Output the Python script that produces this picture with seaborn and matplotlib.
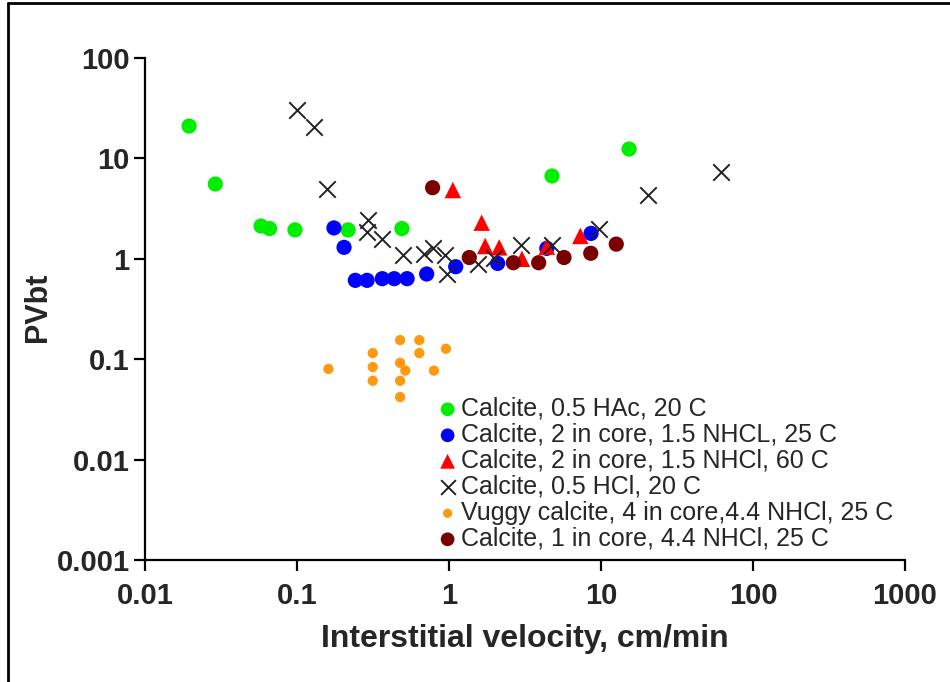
import matplotlib
matplotlib.use("Agg")
import matplotlib.pyplot as plt
from matplotlib.lines import Line2D
from matplotlib.ticker import FixedLocator, NullLocator
import seaborn as sns
import pandas as pd

# ---- data ----
hac_x = [0.0195, 0.029, 0.058, 0.066, 0.097, 0.217, 0.49, 4.76, 15.3]
hac_y = [21.0, 5.56, 2.12, 2.0, 1.94, 1.94, 2.0, 6.68, 12.4]

nh25_x = [0.175, 0.204, 0.242, 0.289, 0.364, 0.436, 0.53, 0.713, 1.107, 2.09, 4.40, 8.6]
nh25_y = [2.03, 1.30, 0.61, 0.61, 0.634, 0.634, 0.634, 0.706, 0.834, 0.90, 1.27, 1.79]

nh60_x = [1.06, 1.64, 1.73, 2.14, 3.02, 4.40, 7.31]
nh60_y = [4.84, 2.29, 1.34, 1.30, 1.00, 1.32, 1.69]

hcl_x = [0.10, 0.129, 0.158, 0.294, 0.29, 0.36, 0.50, 0.68, 0.79, 0.94, 0.97,
         1.56, 1.98, 2.96, 4.78, 9.75, 20.4, 61.5]
hcl_y = [30.3, 20.4, 4.96, 2.43, 1.86, 1.57, 1.10, 1.12, 1.29, 1.09, 0.70,
         0.88, 1.02, 1.37, 1.37, 2.0, 4.32, 7.38]

vug_x = [0.161, 0.315, 0.315, 0.315, 0.477, 0.477, 0.516, 0.477, 0.477,
         0.638, 0.638, 0.796, 0.955]
vug_y = [0.080, 0.115, 0.0835, 0.061, 0.155, 0.092, 0.077, 0.061, 0.042,
         0.155, 0.115, 0.077, 0.127]

c1_x = [0.78, 1.36, 2.65, 3.89, 5.71, 8.56, 12.6]
c1_y = [5.11, 1.03, 0.914, 0.914, 1.03, 1.135, 1.40]

labels = ["Calcite, 0.5 HAc, 20 C",
          "Calcite, 2 in core, 1.5 NHCL, 25 C",
          "Calcite, 2 in core, 1.5 NHCl, 60 C",
          "Calcite, 0.5 HCl, 20 C",
          "Vuggy calcite, 4 in core,4.4 NHCl, 25 C",
          "Calcite, 1 in core, 4.4 NHCl, 25 C"]

x_ticks = [0.01, 0.1, 1, 10, 100, 1000]
x_ticklabels = ["0.01", "0.1", "1", "10", "100", "1000"]
y_ticks = [0.001, 0.01, 0.1, 1, 10, 100]
y_ticklabels = ["0.001", "0.01", "0.1", "1", "10", "100"]

# ---- style ----
sns.set_style("ticks")
plt.rcParams["font.family"] = ["Liberation Sans", "DejaVu Sans"]

fig = plt.figure(figsize=(9.5, 6.82), dpi=100)
ax = fig.add_axes([145 / 950, 1 - 560 / 682, 760 / 950, 502 / 682])

series = [
    (hac_x, hac_y, "o", "#00ee00", 120, 0),
    (nh25_x, nh25_y, "o", "#0000ff", 120, 0),
    (nh60_x, nh60_y, "^", "#ff0000", 140, 0),
    (hcl_x, hcl_y, "x", "#222222", 140, 1.4),
    (vug_x, vug_y, "o", "#ff9a10", 55, 0),
    (c1_x, c1_y, "o", "#7a0000", 120, 0),
]

for (xs, ys, mk, col, s, lw), lab in zip(series, labels):
    df = pd.DataFrame({"v": xs, "p": ys})
    if mk == "x":
        sns.scatterplot(data=df, x="v", y="p", ax=ax, marker="x", color=col,
                        s=s, linewidth=lw, label=lab, zorder=3)
    else:
        sns.scatterplot(data=df, x="v", y="p", ax=ax, marker=mk, color=col,
                        s=s, linewidth=0, edgecolor="none", label=lab, zorder=3)

ax.set_xscale("log")
ax.set_yscale("log")
ax.set_xlim(0.01, 1000)
ax.set_ylim(0.001, 100)
ax.xaxis.set_major_locator(FixedLocator(x_ticks))
ax.yaxis.set_major_locator(FixedLocator(y_ticks))
ax.xaxis.set_minor_locator(NullLocator())
ax.yaxis.set_minor_locator(NullLocator())
ax.set_xticklabels(x_ticklabels, fontsize=21, fontweight="bold")
ax.set_yticklabels(y_ticklabels, fontsize=21, fontweight="bold")
ax.tick_params(axis="y", direction="out", length=8, width=1.6, color="black", pad=3)
ax.tick_params(axis="x", direction="out", length=8, width=1.6, color="black", pad=8)

for side in ["top", "right"]:
    ax.spines[side].set_visible(False)
for side in ["left", "bottom"]:
    ax.spines[side].set_linewidth(1.6)
    ax.spines[side].set_color("black")

ax.set_xlabel("Interstitial velocity, cm/min", fontsize=23, fontweight="bold")
ax.xaxis.set_label_coords(0.5, -0.128)
ax.set_ylabel("PVbt", fontsize=22, fontweight="bold")
ax.yaxis.set_label_coords(-0.121, 0.504)

# legend
handles, labs = ax.get_legend_handles_labels()
leg = ax.legend(handles, labs, loc="upper left", bbox_to_anchor=(0.385, 0.325),
                frameon=False, fontsize=18, handlelength=0.8, handletextpad=0.15,
                labelspacing=0.08, borderpad=0, borderaxespad=0, markerscale=0.9)

# outer frame (left and top lines only)
fig.add_artist(Line2D([8 / 950, 8 / 950], [0, 1 - 3 / 682], transform=fig.transFigure,
                      color="black", linewidth=2))
fig.add_artist(Line2D([8 / 950, 1], [1 - 3 / 682, 1 - 3 / 682], transform=fig.transFigure,
                      color="black", linewidth=2))

fig.savefig("out.png", dpi=100)
